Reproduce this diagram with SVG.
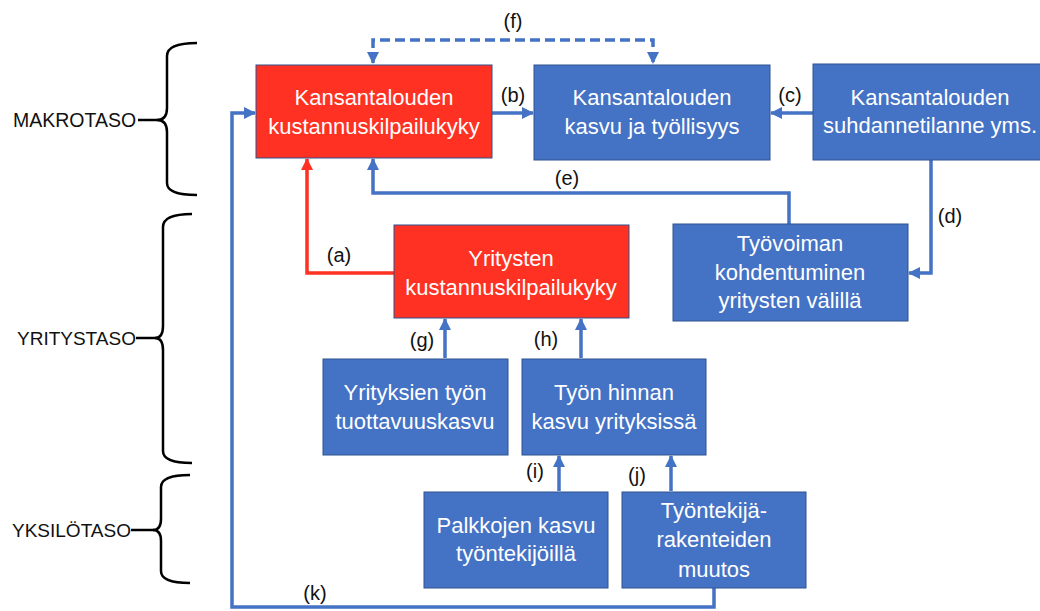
<svg xmlns="http://www.w3.org/2000/svg" width="1040" height="611" viewBox="0 0 1040 611">
<defs>
<style>
.box{stroke:#2F528F;stroke-width:1}
.blue{fill:#4472C4}
.red{fill:#FF3122}
.bt{font-family:"Liberation Sans",Arial,sans-serif;font-size:22px;fill:#FFFFFF;text-anchor:middle}
.lbl{font-family:"Liberation Sans",Arial,sans-serif;font-size:20px;fill:#111111;text-anchor:middle}
.lvl{font-family:"Liberation Sans",Arial,sans-serif;font-size:19px;fill:#111111}
.brace{fill:none;stroke:#000000;stroke-width:2.5}
.con{fill:none;stroke:#4472C4;stroke-width:3.5;marker-end:url(#ab)}
.conr{fill:none;stroke:#FF3122;stroke-width:3.5;marker-end:url(#ar)}
</style>
<marker id="ab" markerUnits="userSpaceOnUse" markerWidth="14" markerHeight="14" refX="11" refY="6" orient="auto-start-reverse">
<path d="M0,0 L12,6 L0,12 z" fill="#4472C4"/>
</marker>
<marker id="ar" markerUnits="userSpaceOnUse" markerWidth="14" markerHeight="14" refX="11" refY="6" orient="auto">
<path d="M0,0 L12,6 L0,12 z" fill="#FF3122"/>
</marker>
</defs>
<rect width="1040" height="611" fill="#FFFFFF"/>

<g id="levels">
<text class="lvl" x="13" y="127" style="font-size:19.5px">MAKROTASO</text>
<path class="brace" d="M138,120 L158,120"/>
<path class="brace" d="M197,43 Q167,43 167,56 L167,108 Q167,120 157,120 Q167,120 167,132 L167,183 Q167,195 197,195"/>
<text class="lvl" x="17" y="345">YRITYSTASO</text>
<path class="brace" d="M136,338 L156,338"/>
<path class="brace" d="M192,214 Q163,214 163,227 L163,326 Q163,338 155,338 Q163,338 163,350 L163,451 Q163,463 192,463"/>
<text class="lvl" x="12" y="537">YKSILÖTASO</text>
<path class="brace" d="M131,530 L154,530"/>
<path class="brace" d="M190,475 Q161,475 161,487 L161,519 Q161,530 153,530 Q161,530 161,541 L161,571 Q161,583 190,583"/>
</g>

<g id="connectors">
<path d="M373,63 L373,40 L653,40 L653,63" fill="none" stroke="#4472C4" stroke-width="3.5" stroke-dasharray="10,5" marker-start="url(#ab)" marker-end="url(#ab)"/>
<path class="con" d="M492,113 L533,113"/>
<path class="con" d="M813,113 L771,113"/>
<path class="con" d="M931,160 L931,273 L909,273"/>
<path class="con" d="M789,224 L789,193 L373,193 L373,159"/>
<path class="conr" d="M394,273 L307,273 L307,159"/>
<path class="con" d="M445,358 L445,319"/>
<path class="con" d="M581,358 L581,319"/>
<path class="con" d="M559,491 L559,456"/>
<path class="con" d="M671,491 L671,456"/>
<path class="con" d="M714,588 L714,607 L232,607 L232,113 L255,113"/>
<text class="lbl" x="513" y="28">(f)</text>
<text class="lbl" x="513" y="102">(b)</text>
<text class="lbl" x="790" y="102">(c)</text>
<text class="lbl" x="567" y="185">(e)</text>
<text class="lbl" x="339" y="262">(a)</text>
<text class="lbl" x="950" y="223">(d)</text>
<text class="lbl" x="422" y="347">(g)</text>
<text class="lbl" x="546" y="346">(h)</text>
<text class="lbl" x="535" y="478">(i)</text>
<text class="lbl" x="637" y="482">(j)</text>
<text class="lbl" x="315" y="600">(k)</text>
</g>

<g id="n1">
<rect class="box red" x="256" y="65" width="236" height="93"/>
<text class="bt" x="374" y="105">Kansantalouden</text>
<text class="bt" x="374" y="134">kustannuskilpailukyky</text>
</g>
<g id="n2">
<rect class="box blue" x="534" y="65" width="236" height="95"/>
<text class="bt" x="652" y="105">Kansantalouden</text>
<text class="bt" x="652" y="134">kasvu ja työllisyys</text>
</g>
<g id="n3">
<rect class="box blue" x="813" y="64" width="236" height="96"/>
<text class="bt" x="930" y="105">Kansantalouden</text>
<text class="bt" x="930" y="133">suhdannetilanne yms.</text>
</g>
<g id="n4">
<rect class="box red" x="394" y="225" width="235" height="93"/>
<text class="bt" x="511" y="266">Yritysten</text>
<text class="bt" x="511" y="295">kustannuskilpailukyky</text>
</g>
<g id="n5">
<rect class="box blue" x="673" y="224" width="235" height="97"/>
<text class="bt" x="790" y="251">Työvoiman</text>
<text class="bt" x="790" y="280">kohdentuminen</text>
<text class="bt" x="790" y="308">yritysten välillä</text>
</g>
<g id="n6">
<rect class="box blue" x="323" y="359" width="185" height="96"/>
<text class="bt" x="415" y="400">Yrityksien työn</text>
<text class="bt" x="415" y="429">tuottavuuskasvu</text>
</g>
<g id="n7">
<rect class="box blue" x="522" y="359" width="184" height="96"/>
<text class="bt" x="614" y="400">Työn hinnan</text>
<text class="bt" x="614" y="429">kasvu yrityksissä</text>
</g>
<g id="n8">
<rect class="box blue" x="424" y="492" width="184" height="96"/>
<text class="bt" x="516" y="533">Palkkojen kasvu</text>
<text class="bt" x="516" y="561">työntekijöillä</text>
</g>
<g id="n9">
<rect class="box blue" x="622" y="492" width="184" height="96"/>
<text class="bt" x="714" y="518">Työntekijä-</text>
<text class="bt" x="714" y="547">rakenteiden</text>
<text class="bt" x="714" y="577">muutos</text>
</g>
</svg>
